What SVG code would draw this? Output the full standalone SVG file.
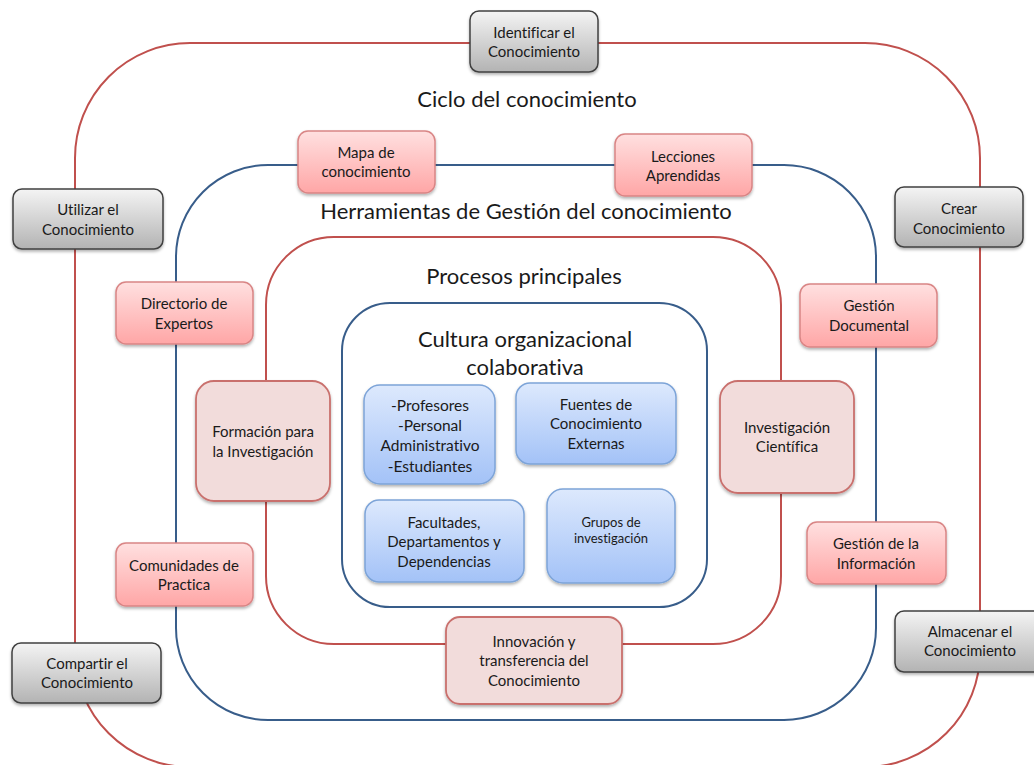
<svg xmlns="http://www.w3.org/2000/svg" width="1034" height="765" viewBox="0 0 1034 765">
<style>
  text { font-family: Lato, "Open Sans", "Liberation Sans", sans-serif; fill: #1a1a1a; text-anchor: middle; font-variant-ligatures: none; }
  .t { font-size: 15px; }
  .title { font-size: 22px; }
  .ring-red { fill: none; stroke: #c0504d; stroke-width: 2; }
  .ring-blue { fill: none; stroke: #385d8a; stroke-width: 2; }
  .gray { fill: url(#gGray); stroke: #404040; stroke-width: 1.5; filter: url(#sh); }
  .pink { fill: url(#gPink); stroke: #d98585; stroke-width: 1.5; filter: url(#sh); }
  .proc { fill: #f2dcdb; stroke: #c9706d; stroke-width: 1.8; filter: url(#sh); }
  .blue { fill: url(#gBlue); stroke: #7da4d8; stroke-width: 1.5; filter: url(#sh); }
</style>
<defs>
  <linearGradient id="gGray" x1="0" y1="0" x2="0" y2="1">
    <stop offset="0" stop-color="#f4f4f4"/>
    <stop offset="1" stop-color="#b3b3b3"/>
  </linearGradient>
  <linearGradient id="gPink" x1="0" y1="0" x2="0" y2="1">
    <stop offset="0" stop-color="#ffe0e0"/>
    <stop offset="1" stop-color="#ffa6a6"/>
  </linearGradient>
  <linearGradient id="gBlue" x1="0" y1="0" x2="0" y2="1">
    <stop offset="0" stop-color="#dde9fd"/>
    <stop offset="1" stop-color="#a3c2f7"/>
  </linearGradient>
  <filter id="sh" x="-10%" y="-10%" width="125%" height="135%">
    <feDropShadow dx="0" dy="2" stdDeviation="1.5" flood-color="#000" flood-opacity="0.3"/>
  </filter>
</defs>
<rect width="1034" height="765" fill="#ffffff"/>

<g id="connectors">
  <rect class="ring-red" x="75" y="43" width="905" height="724" rx="115" ry="115"/>
  <rect class="ring-blue" x="176" y="165" width="700" height="555" rx="92" ry="92"/>
  <rect class="ring-red" x="266" y="237" width="515" height="407" rx="68" ry="68"/>
  <rect class="ring-blue" x="342" y="303" width="365" height="304" rx="48" ry="48"/>
</g>

<g id="titles">
  <text class="title" x="527" y="107">Ciclo del conocimiento</text>
  <text class="title" x="526" y="219">Herramientas de Gestión del conocimiento</text>
  <text class="title" x="524" y="284">Procesos principales</text>
  <text class="title" x="525" y="347">Cultura organizacional</text>
  <text class="title" x="525" y="375">colaborativa</text>
</g>

<g id="identificar">
  <rect class="gray" x="470" y="11" width="128" height="61" rx="9"/>
  <text class="t" x="534" y="38">Identificar el</text>
  <text class="t" x="534" y="57">Conocimiento</text>
</g>
<g id="utilizar">
  <rect class="gray" x="13" y="189" width="150" height="60" rx="9"/>
  <text class="t" x="88" y="215">Utilizar el</text>
  <text class="t" x="88" y="235">Conocimiento</text>
</g>
<g id="crear">
  <rect class="gray" x="895" y="187" width="128" height="60" rx="9"/>
  <text class="t" x="959" y="214">Crear</text>
  <text class="t" x="959" y="234">Conocimiento</text>
</g>
<g id="compartir">
  <rect class="gray" x="12" y="643" width="149" height="60" rx="9"/>
  <text class="t" x="87" y="669">Compartir el</text>
  <text class="t" x="87" y="688">Conocimiento</text>
</g>
<g id="almacenar">
  <rect class="gray" x="895" y="611" width="150" height="61" rx="9"/>
  <text class="t" x="970" y="637">Almacenar el</text>
  <text class="t" x="970" y="656">Conocimiento</text>
</g>

<g id="mapa">
  <rect class="pink" x="298" y="131" width="137" height="62" rx="10"/>
  <text class="t" x="366" y="158">Mapa de</text>
  <text class="t" x="366" y="177">conocimiento</text>
</g>
<g id="lecciones">
  <rect class="pink" x="615" y="134" width="137" height="62" rx="10"/>
  <text class="t" x="683" y="162">Lecciones</text>
  <text class="t" x="683" y="181">Aprendidas</text>
</g>
<g id="directorio">
  <rect class="pink" x="116" y="282" width="137" height="62" rx="10"/>
  <text class="t" x="184" y="309">Directorio de</text>
  <text class="t" x="184" y="329">Expertos</text>
</g>
<g id="gestion-documental">
  <rect class="pink" x="800" y="284" width="137" height="63" rx="10"/>
  <text class="t" x="869" y="311">Gestión</text>
  <text class="t" x="869" y="331">Documental</text>
</g>
<g id="comunidades">
  <rect class="pink" x="116" y="543" width="137" height="63" rx="10"/>
  <text class="t" x="184" y="571">Comunidades de</text>
  <text class="t" x="184" y="590">Practica</text>
</g>
<g id="gestion-informacion">
  <rect class="pink" x="807" y="522" width="139" height="62" rx="10"/>
  <text class="t" x="876" y="549">Gestión de la</text>
  <text class="t" x="876" y="569">Información</text>
</g>

<g id="formacion">
  <rect class="proc" x="196" y="381" width="134" height="120" rx="18"/>
  <text class="t" x="263" y="437">Formación para</text>
  <text class="t" x="263" y="457">la Investigación</text>
</g>
<g id="investigacion">
  <rect class="proc" x="720" y="381" width="134" height="112" rx="18"/>
  <text class="t" x="787" y="433">Investigación</text>
  <text class="t" x="787" y="452">Científica</text>
</g>
<g id="innovacion">
  <rect class="proc" x="446" y="617" width="176" height="87" rx="14"/>
  <text class="t" x="534" y="647">Innovación y</text>
  <text class="t" x="534" y="666">transferencia del</text>
  <text class="t" x="534" y="686">Conocimiento</text>
</g>

<g id="profesores">
  <rect class="blue" x="364" y="385" width="131" height="99" rx="16"/>
  <text x="430" y="411" style="font-size:15.5px">-Profesores</text>
  <text x="430" y="431" style="font-size:15.5px">-Personal</text>
  <text x="430" y="451" style="font-size:15.5px">Administrativo</text>
  <text x="430" y="472" style="font-size:15.5px">-Estudiantes</text>
</g>
<g id="fuentes">
  <rect class="blue" x="516" y="383" width="160" height="81" rx="14"/>
  <text class="t" x="596" y="410">Fuentes de</text>
  <text class="t" x="596" y="429">Conocimiento</text>
  <text class="t" x="596" y="449">Externas</text>
</g>
<g id="facultades">
  <rect class="blue" x="365" y="500" width="159" height="82" rx="14"/>
  <text class="t" x="444" y="528">Facultades,</text>
  <text class="t" x="444" y="547">Departamentos y</text>
  <text class="t" x="444" y="567">Dependencias</text>
</g>
<g id="grupos">
  <rect class="blue" x="547" y="489" width="128" height="94" rx="16"/>
  <text x="611" y="527" style="font-size:13px">Grupos de</text>
  <text x="611" y="543" style="font-size:13px">investigación</text>
</g>
</svg>
